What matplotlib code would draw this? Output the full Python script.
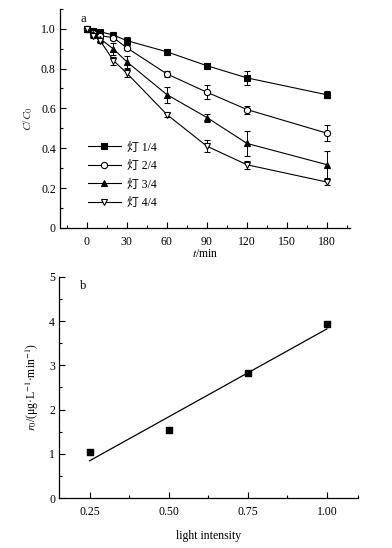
import matplotlib
matplotlib.use("Agg")
from matplotlib import pyplot as plt
from matplotlib.ticker import MultipleLocator, FixedLocator
import numpy as np

plt.rcParams['font.family'] = ['Liberation Serif', 'Noto Sans CJK SC']
plt.rcParams['mathtext.fontset'] = 'stix'
plt.rcParams['font.size'] = 8.5

# panel a: C/C0 over time for 4 lamp settings
t_min = [0, 5, 10, 20, 30, 60, 90, 120, 180]
labels = ["灯 1/4", "灯 2/4", "灯 3/4", "灯 4/4"]
c_14 = [1.0, 0.99, 0.985, 0.968, 0.94, 0.884, 0.814, 0.753, 0.668]
c_24 = [1.0, 0.98, 0.965, 0.955, 0.904, 0.773, 0.681, 0.594, 0.475]
c_34 = [1.0, 0.975, 0.95, 0.898, 0.834, 0.669, 0.554, 0.424, 0.317]
c_44 = [1.0, 0.965, 0.94, 0.84, 0.777, 0.569, 0.41, 0.317, 0.23]
err_14 = [0.005, 0.008, 0.008, 0.01, 0.02, 0.01, 0.01, 0.035, 0.018]
err_24 = [0.005, 0.01, 0.01, 0.012, 0.012, 0.015, 0.035, 0.02, 0.04]
err_34 = [0.005, 0.01, 0.012, 0.03, 0.03, 0.04, 0.02, 0.062, 0.068]
err_44 = [0.005, 0.01, 0.01, 0.02, 0.02, 0.01, 0.03, 0.02, 0.012]

# panel b: initial rate vs light intensity
light = [0.25, 0.50, 0.75, 1.00]
r0 = [1.05, 1.53, 2.82, 3.93]

fig = plt.figure(figsize=(3.92, 5.48), dpi=100)
ax1 = fig.add_axes([0.153, 0.584, 0.74, 0.40])
ax2 = fig.add_axes([0.151, 0.091, 0.762, 0.404])

series = [c_14, c_24, c_34, c_44]
errs = [err_14, err_24, err_34, err_44]
styles = [dict(marker='s', mfc='black'), dict(marker='o', mfc='white'),
          dict(marker='^', mfc='black'), dict(marker='v', mfc='white')]
handles = []
for y, e, st, lab in zip(series, errs, styles, labels):
    cont = ax1.errorbar(t_min, y, yerr=e, color='black', lw=0.8, elinewidth=0.7,
                        capsize=2.2, capthick=0.7, ms=4.5, mec='black', mew=0.8,
                        label=lab, **st)
    handles.append(cont[0])

ax1.set_xlim(-20, 197)
ax1.set_ylim(0, 1.1)
ax1.xaxis.set_major_locator(FixedLocator([0, 30, 60, 90, 120, 150, 180]))
ax1.xaxis.set_minor_locator(FixedLocator([-15, 15, 45, 75, 105, 135, 165, 195]))
ax1.yaxis.set_major_locator(FixedLocator([0, 0.2, 0.4, 0.6, 0.8, 1.0]))
ax1.yaxis.set_minor_locator(MultipleLocator(0.1))
ax1.set_yticklabels(["0", "0.2", "0.4", "0.6", "0.8", "1.0"])
ax1.set_xlabel("$t$/min", labelpad=0)
ax1.set_ylabel("$C$/$C_0$", labelpad=4, color='#333333')
ax1.text(0.072, 0.98, "a", transform=ax1.transAxes, va='top', fontsize=9)
ax1.legend(handles, labels, loc='lower left', bbox_to_anchor=(0.08, 0.065),
           frameon=False, handlelength=2.8, handletextpad=0.5,
           labelspacing=0.55, borderaxespad=0, fontsize=8.5)

ax2.scatter(light, r0, marker='s', s=20, color='black', zorder=3)
slope, icpt = np.polyfit(light, r0, 1)
xs = np.array([light[0], light[-1]])
ax2.plot(xs, slope * xs + icpt, color='black', lw=0.9)
ax2.set_xlim(0.154, 1.098)
ax2.set_ylim(0, 5)
ax2.xaxis.set_major_locator(FixedLocator(light))
ax2.xaxis.set_minor_locator(FixedLocator([0.375, 0.625, 0.875, 1.097]))
ax2.yaxis.set_major_locator(MultipleLocator(1))
ax2.yaxis.set_minor_locator(MultipleLocator(0.5))
ax2.set_xticklabels(["0.25", "0.50", "0.75", "1.00"])
ax2.set_xlabel("light intensity", labelpad=8)
ax2.set_ylabel(r"$r_0$/(μg·L$^{-1}$·min$^{-1}$)", labelpad=6)
ax2.text(0.07, 0.985, "b", transform=ax2.transAxes, va='top', fontsize=9)

for ax in (ax1, ax2):
    for s in ('top', 'right'):
        ax.spines[s].set_visible(False)
    for s in ('left', 'bottom'):
        ax.spines[s].set_linewidth(0.9)
    ax.tick_params(which='major', direction='in', length=4, width=0.8, pad=6)
    ax.tick_params(which='minor', direction='in', length=2.5, width=0.8)
    ax.tick_params(axis='y', pad=3)

fig.savefig("out.png", dpi=100)
